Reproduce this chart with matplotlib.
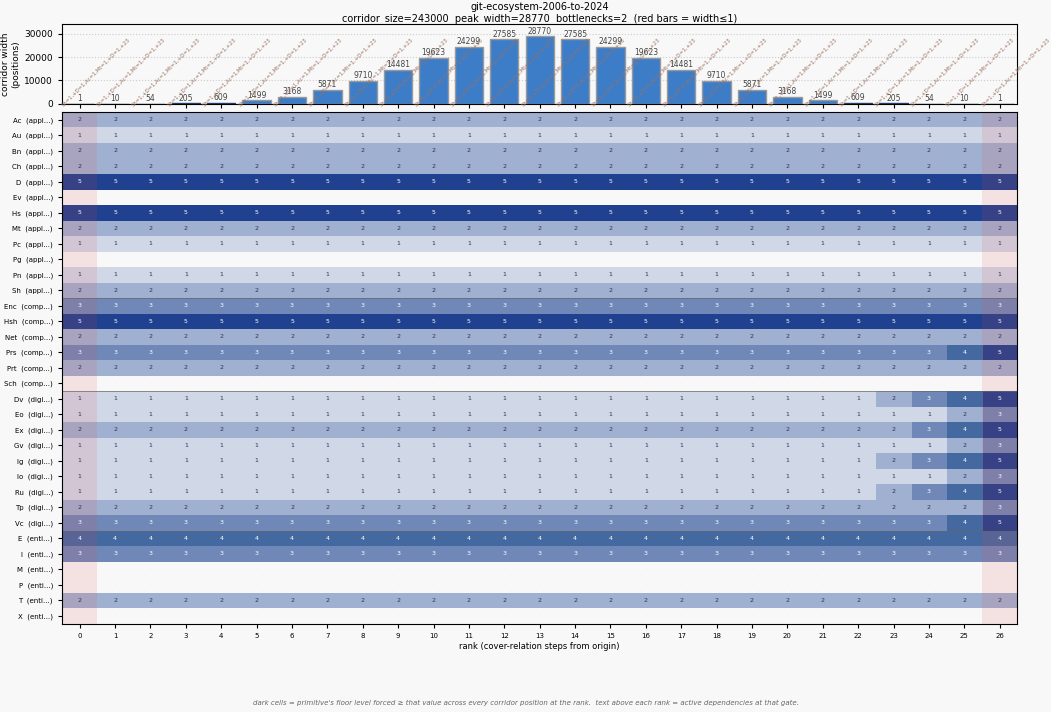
import numpy as np
import matplotlib
matplotlib.use("Agg")
import matplotlib.pyplot as plt
from matplotlib.colors import ListedColormap, BoundaryNorm

ranks = list(range(27))
widths = [1, 10, 54, 205, 609, 1499, 3168, 5871, 9710, 14481, 19623, 24299, 27585, 28770,
          27585, 24299, 19623, 14481, 9710, 5871, 3168, 1499, 609, 205, 54, 10, 1]
dep_text = "Sh=1,+D=1,Ac=1,Mt=1,+D=1,+23"

rows = ["Ac", "Au", "Bn", "Ch", "D", "Ev", "Hs", "Mt", "Pc", "Pg", "Pn", "Sh",
        "Enc", "Hsh", "Net", "Prs", "Prt", "Sch",
        "Dv", "Eo", "Ex", "Gv", "Ig", "Io", "Ru", "Tp", "Vc",
        "E", "I", "M", "P", "T", "X"]
groups = ["appl"] * 12 + ["comp"] * 6 + ["digi"] * 9 + ["enti"] * 6
base = [2, 1, 2, 2, 5, 0, 5, 2, 1, 0, 1, 2,
        3, 5, 2, 3, 2, 0,
        1, 1, 2, 1, 1, 1, 1, 2, 3,
        4, 3, 0, 0, 2, 0]
# tail values for ranks 23..26 where they differ from base
tails = {
    "Prs": [3, 3, 4, 5],
    "Dv": [2, 3, 4, 5],
    "Eo": [1, 1, 2, 3],
    "Ex": [2, 3, 4, 5],
    "Gv": [1, 1, 2, 3],
    "Ig": [2, 3, 4, 5],
    "Io": [1, 1, 2, 3],
    "Ru": [2, 3, 4, 5],
    "Tp": [2, 2, 2, 3],
    "Vc": [3, 3, 4, 5],
}

M = np.array([[b] * 27 for b in base], dtype=float)
for i, r in enumerate(rows):
    if r in tails:
        M[i, 23:27] = tails[r]

fig = plt.figure(figsize=(10.51, 7.12), dpi=100, facecolor="#f8f8f8")
ax1 = fig.add_axes([0.059, 0.854, 0.909, 0.112], facecolor="#f8f8f8")
ax2 = fig.add_axes([0.059, 0.124, 0.909, 0.719], facecolor="#f8f8f8")

colors = ["#c0392b" if w <= 1 else "#3d7dc8" for w in widths]
edges = ["#1f3f6a" if w < 1000 else "#999999" for w in widths]
ax1.bar(ranks, widths, width=0.8, color=colors, edgecolor=edges, linewidth=1)
ax1.set_xlim(-0.5, 26.5)
ax1.set_ylim(0, 34000)
ax1.set_yticks([0, 10000, 20000, 30000])
ax1.tick_params(labelsize=6.5, length=3)
ax1.set_xticks(ranks)
ax1.set_xticklabels([])
ax1.grid(axis="y", linestyle=":", color="#cccccc")
ax1.set_axisbelow(True)
ax1.set_ylabel("corridor width\n(positions)", fontsize=6.5, labelpad=3)
for r, w in zip(ranks, widths):
    ax1.text(r, w + 300, str(w), ha="center", va="bottom", fontsize=5.5, color="#444444")
    ax1.text(r - 0.45, -1500, dep_text, rotation=45, ha="left", va="bottom", fontsize=3.8,
             color="#9a7060", rotation_mode="anchor", clip_on=False)
ax1.set_title("git-ecosystem-2006-to-2024\ncorridor_size=243000  peak_width=28770  bottlenecks=2  (red bars = width≤1)",
              fontsize=7, pad=2)

cmap = ListedColormap(["#f8f8f8", "#d0d8e8", "#a0b0d0", "#7088b8", "#4468a0", "#1f418f"])
norm = BoundaryNorm(np.arange(-0.5, 6.5, 1), cmap.N)
ax2.imshow(M, aspect="auto", cmap=cmap, norm=norm, interpolation="nearest")
for c in (0, 26):
    ax2.axvspan(c - 0.5, c + 0.5, color="#e05050", alpha=0.13, lw=0)
for i in range(len(rows)):
    for j in range(27):
        v = int(M[i, j])
        if v == 0:
            ax2.text(j, i, "·", ha="center", va="center", fontsize=4, color="#dddddd")
        else:
            ax2.text(j, i, str(v), ha="center", va="center", fontsize=4.5,
                     color="white" if v >= 3 else "#333355")
for i in range(1, len(rows)):
    if groups[i] != groups[i - 1]:
        ax2.axhline(i - 0.5, color="#666666", lw=0.7, alpha=0.7)
ax2.set_yticks(range(len(rows)))
ax2.set_yticklabels([f"{r}  ({g}...)" for r, g in zip(rows, groups)], fontsize=5)
ax2.set_xticks(ranks)
ax2.set_xticklabels([str(r) for r in ranks], fontsize=5)
ax2.tick_params(length=3)
ax2.set_xlabel("rank (cover-relation steps from origin)", fontsize=6, labelpad=2)
ax2.set_ylabel("primitive (floor level shared across all corridor positions)", fontsize=6)

fig.text(0.5, 0.01, "dark cells = primitive's floor level forced \u2265 that value across every corridor position at the rank.  "
         "text above each rank = active dependencies at that gate.",
         ha="center", fontsize=5, style="italic", color="#666666")
fig.savefig("out.png", dpi=100, facecolor=fig.get_facecolor())
